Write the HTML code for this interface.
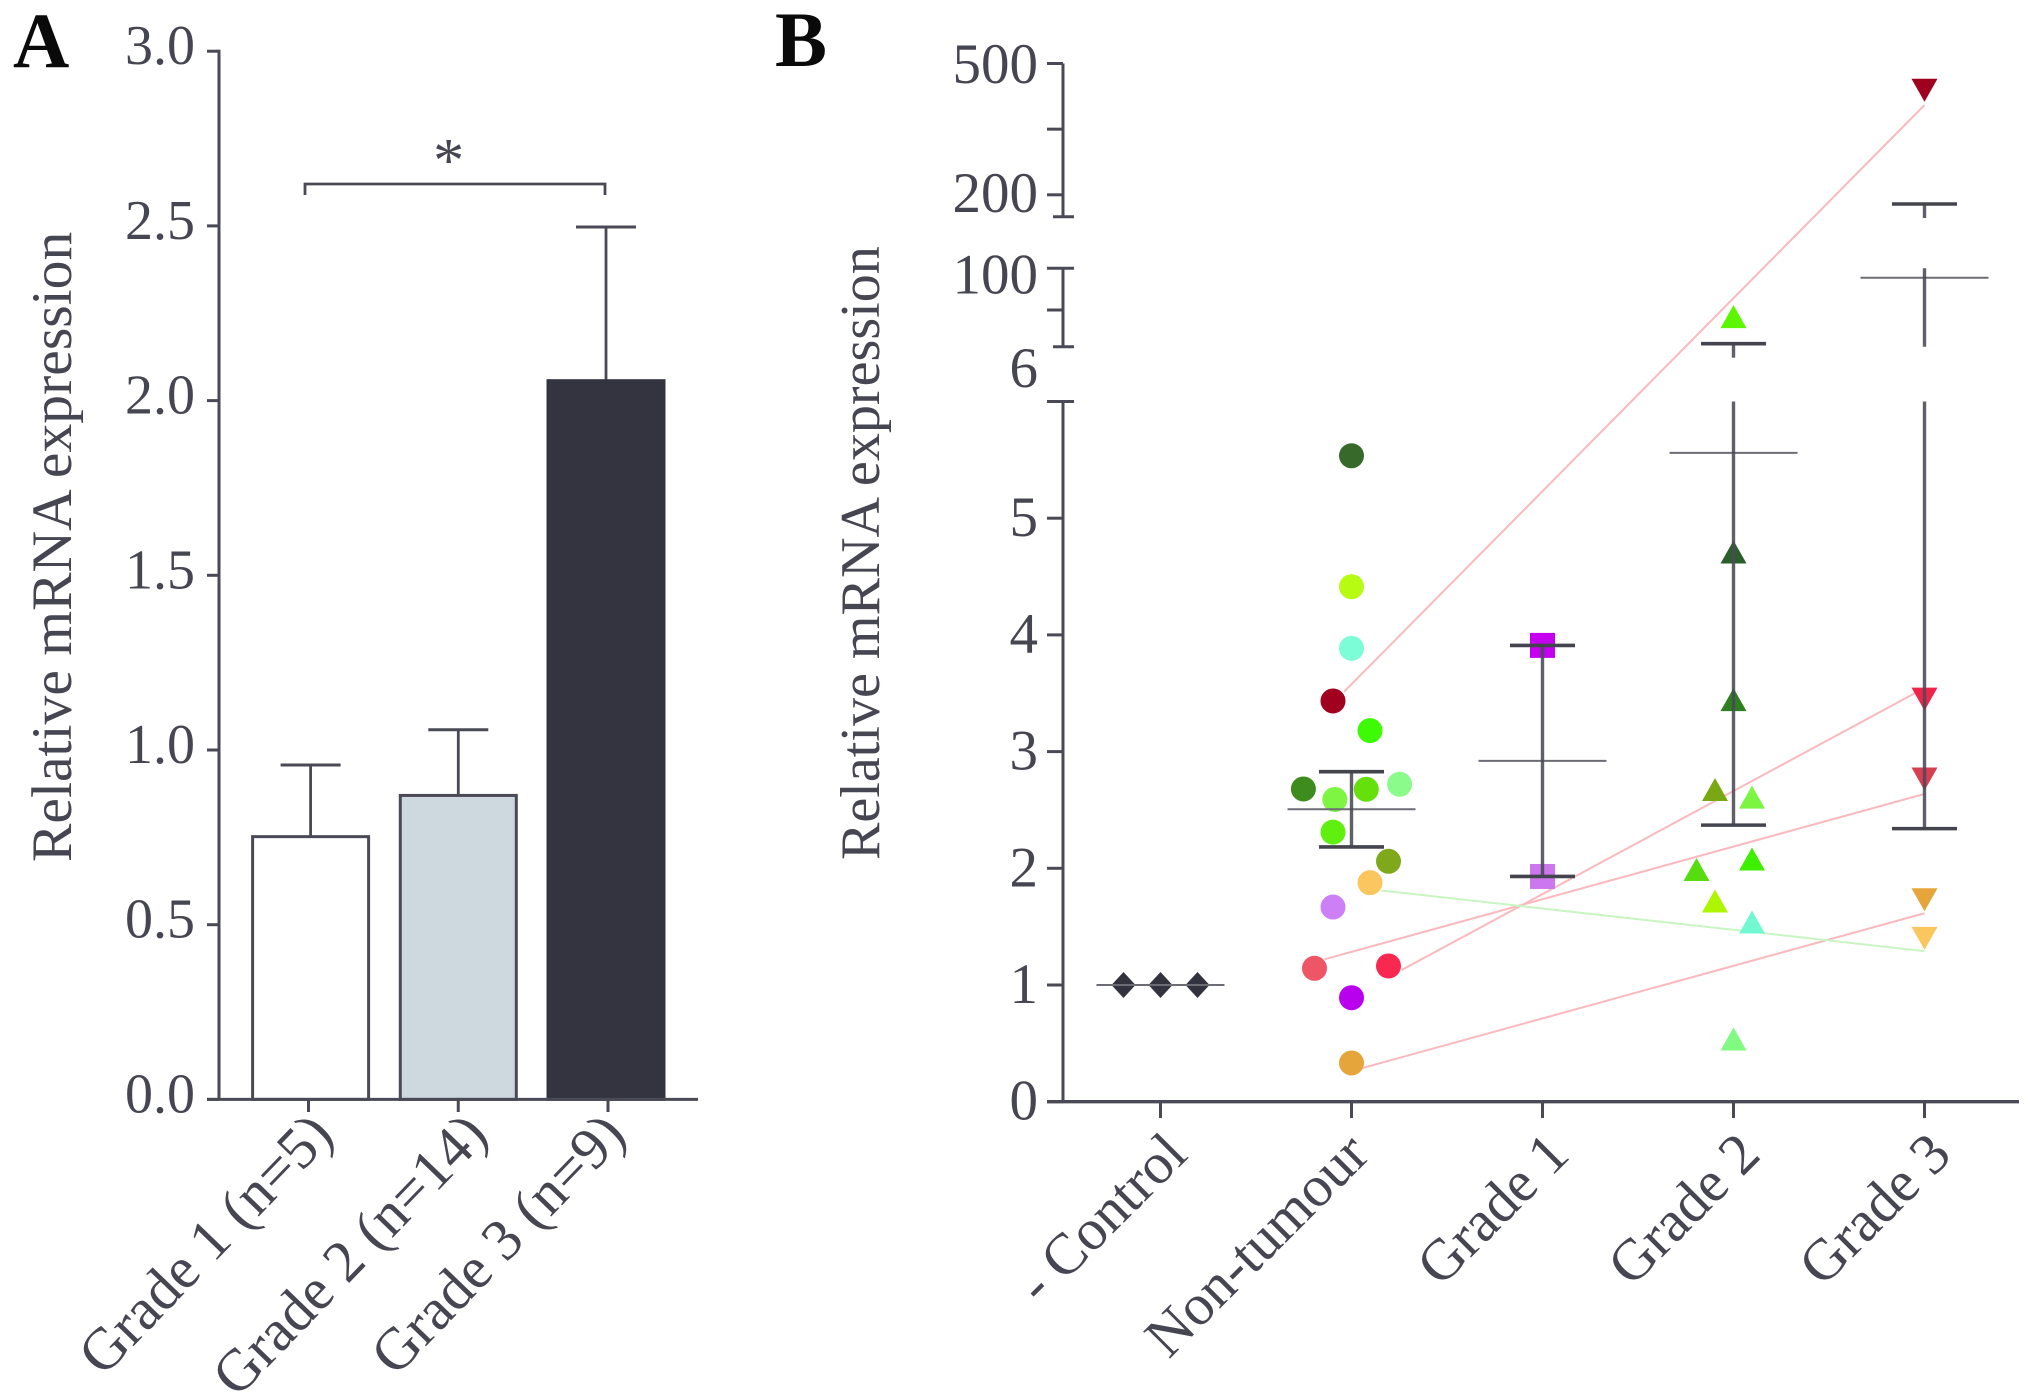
<!DOCTYPE html>
<html lang="en">
<head>
<meta charset="utf-8">
<title>Relative mRNA expression by tumour grade</title>
<style>
html,body{margin:0;padding:0;background:#fff;}
svg{display:block;}
text{font-family:"Liberation Serif",serif;fill:#464653;}
</style>
</head>
<body>
<svg id="figure" xmlns="http://www.w3.org/2000/svg" width="2031" height="1398" viewBox="0 0 2031 1398">
  <rect width="2031" height="1398" fill="#fff"/>
  <text x="13" y="67" font-size="78" font-weight="bold" style="fill:#0a0a0a">A</text>
  <text x="775" y="66" font-size="78" font-weight="bold" style="fill:#0a0a0a">B</text>
  <text transform="translate(71,862) rotate(-90)" font-size="57.6">Relative mRNA expression</text>
  <text transform="translate(879,860) rotate(-90)" font-size="56.1">Relative mRNA expression</text>
  <g id="panelA"></g>
  <g id="panelB"></g>
</svg>
<script>
/* ---------- Panel A data ---------- */
const categoriesA = ['Grade 1 (n=5)', 'Grade 2 (n=14)', 'Grade 3 (n=9)'];
const barValuesA = [0.752, 0.87, 2.057];
const barErrorTopsA = [0.957, 1.058, 2.497];
const barFillsA = ['#ffffff', '#cdd9df', '#33343f'];
const yTicksA = [0, 0.5, 1, 1.5, 2, 2.5, 3];
const yTickLabelsA = ['0.0', '0.5', '1.0', '1.5', '2.0', '2.5', '3.0'];
const significanceLevelA = 2.62;

/* ---------- Panel B data ---------- */
const categoriesB = ['- Control', 'Non-tumour', 'Grade 1', 'Grade 2', 'Grade 3'];
const yTicksB = [0, 1, 2, 3, 4, 5, 50, 200, 350];
const yLabelsB = ['0', '1', '2', '3', '4', '5', '6', '100', '200', '500'];
const yLabelValuesB = [0, 1, 2, 3, 4, 5, 6, 100, 200, 500];

const controlSlots = [-2, 0, 2];
const controlValues = [1, 1, 1];

const nonTumourSlots = [0, 0, 0, -1, 1, -2.6, -0.9, 0.8, 2.6, -1, 2, 1, -1, -2, 2, 0, 0];
const nonTumourValues = [5.535, 4.413, 3.885, 3.434, 3.18, 2.68, 2.59, 2.677, 2.72, 2.31, 2.06, 1.877, 1.668, 1.143, 1.163, 0.891, 0.332];
const nonTumourColors = ['#36692a', '#b8fb12', '#7dfcd8', '#a2001f', '#3dfb04', '#3e8c1e', '#7df542', '#66e00c', '#8bfb8b', '#5ff00f', '#7fa81a', '#fcc65f', '#cd80f5', '#ee5565', '#f82850', '#b800ee', '#e5a53a'];

const grade1Values = [3.91, 1.93];
const grade1Colors = ['#c400ee', '#cc77ee'];

const grade2Slots = [0, 0, 0, -1, 1, -2, 1, -1, 1, 0];
const grade2Values = [42, 4.71, 3.445, 2.675, 2.61, 1.99, 2.08, 1.72, 1.54, 0.537];
const grade2Colors = ['#5cf700', '#2a5e2a', '#2f7f22', '#7aa814', '#7cf542', '#55dd10', '#3fef00', '#aef500', '#72f8d0', '#80fa80'];

const grade3Values = [439, 3.45, 2.765, 1.73, 1.40];
const grade3Colors = ['#a00020', '#f0244a', '#d83e52', '#e5a53a', '#fcc65f'];

const meansB = [1, 2.506, 2.92, 5.56, 88.7];
const errorUpperB = [null, 2.828, 3.91, 9.6, 179];
const errorLowerB = [null, 2.183, 1.93, 2.37, 2.34];

const linkStartSlots = [-0.4, 2.7, -1.46, 0.6, 1.6];
const linkStartValues = [3.513, 1.127, 1.22, 0.289, 1.81];
const linkEndValues = [405, 3.545, 2.637, 1.615, 1.29];
const linkColors = ['#f9b9bd', '#f9b9bd', '#f9b9bd', '#f9b9bd', '#c9f5c2'];

/* ---------- Helpers ---------- */
const NS = 'http://www.w3.org/2000/svg';
const INK = '#4a4a56';
function add(parent, tag, attrs) {
  const el = document.createElementNS(NS, tag);
  for (const k in attrs) el.setAttribute(k, attrs[k]);
  parent.appendChild(el);
  return el;
}

/* ---------- Panel A axes ---------- */
const gA = document.getElementById('panelA');
function yA(v) { return 1099.4 - v * 349.4; }
function xBarA(i) { return 310.6 + 147.7 * i; }
function xTickA(i) { return 308.5 + 149.75 * i; }
function xLabelA(i) { return i === 0 ? 335.5 : (i === 1 ? 490 : 628); }

categoriesA.forEach(function (name, i) {
  const cx = xBarA(i);
  const stem = add(gA, 'line', {x1: cx, x2: cx, y1: yA(barValuesA[i]), y2: yA(barErrorTopsA[i]), stroke: INK, 'stroke-width': 2.8});
  
  
  const cap = add(gA, 'line', {x1: cx - 30, x2: cx + 30, y1: yA(barErrorTopsA[i]), y2: yA(barErrorTopsA[i]), stroke: INK, 'stroke-width': 3});
  
  
  const bar = add(gA, 'rect', {x: cx - 58, width: 116, y: yA(barValuesA[i]), height: yA(0) - yA(barValuesA[i]), fill: barFillsA[i], stroke: i === 2 ? '#33343f' : INK, 'stroke-width': 3});
  
  
  const tick = add(gA, 'line', {x1: xTickA(i), x2: xTickA(i), y1: yA(0), y2: 1112, stroke: INK, 'stroke-width': 3});
  
  
  const label = add(gA, 'text', {transform: 'translate(' + xLabelA(i) + ',1137) rotate(-46)', 'text-anchor': 'end', 'font-size': 59});
  label.textContent = name;
  
  
});

const spineA = add(gA, 'line', {x1: 219, x2: 219, y1: yA(3) - 1.5, y2: yA(0), stroke: INK, 'stroke-width': 3});


const baseA = add(gA, 'line', {x1: 207, x2: 698, y1: yA(0), y2: yA(0), stroke: INK, 'stroke-width': 3});



yTicksA.forEach(function (v, i) {
  const t = add(gA, 'line', {x1: 207, x2: 219, y1: yA(v), y2: yA(v), stroke: INK, 'stroke-width': 3});
  
  
  const l = add(gA, 'text', {x: 195, y: yA(v) + 13, 'text-anchor': 'end', 'font-size': 56});
  l.textContent = yTickLabelsA[i];
  
  
});

const bracketTop = yA(significanceLevelA);
const bracket = add(gA, 'path', {d: 'M305 ' + (bracketTop + 11) + 'V' + bracketTop + 'H605V' + (bracketTop + 11), fill: 'none', stroke: INK, 'stroke-width': 2.8});


const star = add(gA, 'text', {x: 448.6, y: 181, 'text-anchor': 'middle', 'font-size': 62});
star.textContent = '*';



/* ---------- Panel B axes ---------- */
const gB = document.getElementById('panelB');
const SLOT = 18.5;
function xB(i) { return 1160.5 + 191 * i; }
function yB(v) {
  if (v <= 6) return 1101.7 - v * 116.7;
  if (v <= 100) return 346.7 - (v - 6) * 0.834;
  return 216.7 - (v - 150) * 0.4377;
}
const segments = [
  {top: 1101.7 - 6 * 116.7, bottom: 1101.7},
  {top: 268.3, bottom: 346.7},
  {top: 63.5, bottom: 216.7}
];

segments.forEach(function (s, i) {
  const spine = add(gB, 'line', {x1: 1063, x2: 1063, y1: s.top, y2: s.bottom, stroke: INK, 'stroke-width': 3});
  
  
  const topCap = add(gB, 'line', {x1: 1047, x2: i === 2 ? 1063 : 1074, y1: s.top, y2: s.top, stroke: INK, 'stroke-width': 3});
  
  
  if (i > 0) {
    const botCap = add(gB, 'line', {x1: 1053, x2: 1074, y1: s.bottom, y2: s.bottom, stroke: INK, 'stroke-width': 3});
    
    
  }
});

yTicksB.forEach(function (v) {
  const t = add(gB, 'line', {x1: 1047, x2: 1063, y1: yB(v), y2: yB(v), stroke: INK, 'stroke-width': 3});
  
  
});

function labelBaselineB(label, v) {
  if (label === '6') return yB(v) - 14.5;
  if (label === '100') return yB(v) + 25;
  if (label === '200') return yB(v) + 17;
  if (label === '500') return yB(v) + 19.5;
  return yB(v) + 18;
}
yLabelsB.forEach(function (label, i) {
  const l = add(gB, 'text', {x: 1038, y: labelBaselineB(label, yLabelValuesB[i]), 'text-anchor': 'end', 'font-size': 57});
  l.textContent = label;
  
  
});

const baseB = add(gB, 'line', {x1: 1047, x2: 2019, y1: 1101.7, y2: 1101.7, stroke: INK, 'stroke-width': 3.4});



categoriesB.forEach(function (name, i) {
  const t = add(gB, 'line', {x1: xB(i), x2: xB(i), y1: 1101.7, y2: 1118, stroke: INK, 'stroke-width': 3});
  
  
  const nudge = i === 1 ? -9 : 0;
  const l = add(gB, 'text', {transform: 'translate(' + (xB(i) + 29 + nudge) + ',1157) rotate(-45)', 'text-anchor': 'end', 'font-size': 58});
  l.textContent = name;
  
  
});

/* connecting lines */
linkStartValues.forEach(function (v, i) {
  const line = add(gB, 'line', {x1: xB(1) + linkStartSlots[i] * SLOT, y1: yB(v), x2: xB(4), y2: yB(linkEndValues[i]), stroke: linkColors[i], 'stroke-width': 2});
  
  
});

/* markers */
controlValues.forEach(function (v, i) {
  const x = xB(0) + controlSlots[i] * SLOT;
  const y = yB(v);
  const m = add(gB, 'polygon', {points: [x - 12, y, x, y - 13, x + 12, y, x, y + 13].join(' '), fill: '#33333f'});
  
  
});
nonTumourValues.forEach(function (v, i) {
  const m = add(gB, 'circle', {cx: xB(1) + nonTumourSlots[i] * SLOT, cy: yB(v), r: 12.5, fill: nonTumourColors[i]});
  
  
});
grade1Values.forEach(function (v, i) {
  const m = add(gB, 'rect', {x: xB(2) - 12.5, y: yB(v) - 12.5, width: 25, height: 25, fill: grade1Colors[i]});
  
  
});
grade2Values.forEach(function (v, i) {
  const x = xB(3) + grade2Slots[i] * SLOT;
  const y = yB(v);
  const m = add(gB, 'polygon', {points: [x - 13, y + 11.5, x, y - 11.5, x + 13, y + 11.5].join(' '), fill: grade2Colors[i]});
  
  
});
grade3Values.forEach(function (v, i) {
  const x = xB(4);
  const y = yB(v);
  const m = add(gB, 'polygon', {points: [x - 13, y - 11.5, x + 13, y - 11.5, x, y + 11.5].join(' '), fill: grade3Colors[i]});
  
  
});

/* mean lines and error bars */
meansB.forEach(function (v, i) {
  const x = xB(i);
  const mean = add(gB, 'line', {x1: x - 64, x2: x + 64, y1: yB(v), y2: yB(v), stroke: '#6c6c74', 'stroke-width': 2});
  
  
  if (errorUpperB[i] === null) return;
  const yUp = yB(errorUpperB[i]);
  const yLo = yB(errorLowerB[i]);
  segments.forEach(function (s) {
    const a = Math.max(yUp, s.top);
    const b = Math.min(yLo, s.bottom);
    if (a >= b) return;
    const end = Math.max(b, a + 14);
    const stem = add(gB, 'line', {x1: x, x2: x, y1: a, y2: end, stroke: '#4a4a56', 'stroke-width': 3.4, 'stroke-opacity': 0.88});
    
    
  });
  [yUp, yLo].forEach(function (y) {
    const cap = add(gB, 'line', {x1: x - 32.5, x2: x + 32.5, y1: y, y2: y, stroke: '#44444f', 'stroke-width': 3.6});
    
    
  });
});
</script>
</body>
</html>
